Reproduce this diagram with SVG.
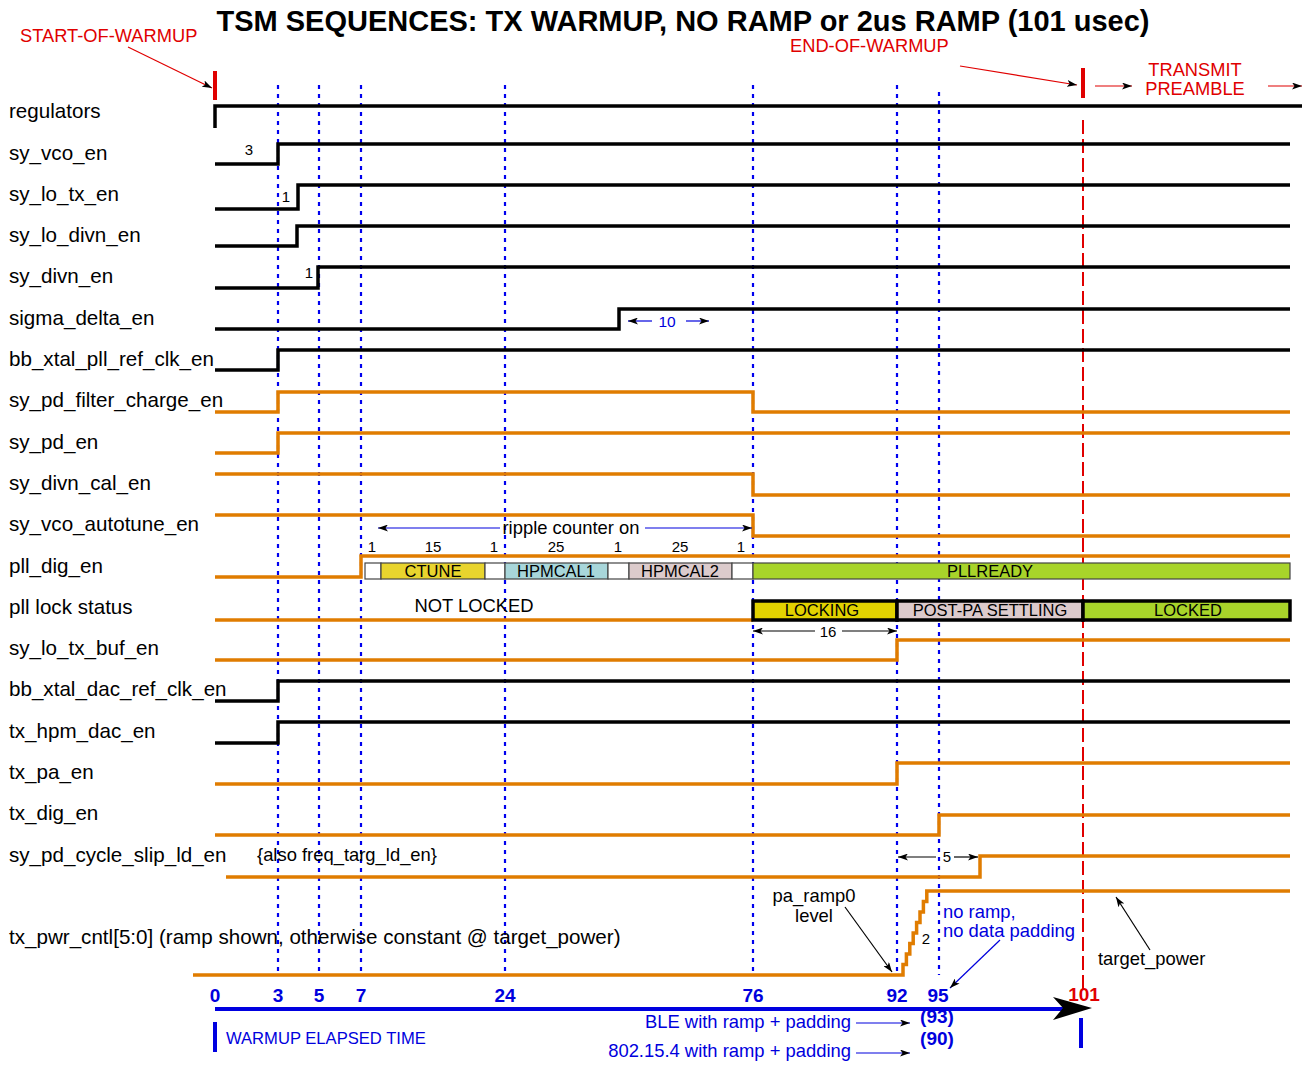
<svg xmlns="http://www.w3.org/2000/svg" width="1306" height="1065" viewBox="0 0 1306 1065">
<style>
text{font-family:"Liberation Sans",Arial,sans-serif}
.lbl{font-size:20.6px;fill:#000}
.sm{font-size:15px;fill:#000}
.red{fill:#e00000;font-size:18.3px}
.blu{fill:#0000dd;font-size:18.4px}
.num{fill:#0000dd;font-size:19px;font-weight:bold;text-anchor:middle}
.blk{fill:none;stroke:#000;stroke-width:3.5}
.org{fill:none;stroke:#e07c00;stroke-width:3.5}
.dot{stroke:#0000ee;stroke-width:2.2;stroke-dasharray:4 5}
.box{stroke:#444;stroke-width:1.2}
.bt{font-size:16.5px;fill:#000;text-anchor:middle}
.lk{stroke:#000;stroke-width:3.5}
.ann{font-size:18.4px;fill:#000}
</style>
<defs>
<marker id="ah" viewBox="0 0 10 7" refX="10" refY="3.5" markerWidth="10" markerHeight="7" markerUnits="userSpaceOnUse" orient="auto">
<path d="M0,0 L10,3.5 L0,7 L2.5,3.5 z" fill="#000"/>
</marker>
</defs>
<rect width="1306" height="1065" fill="#fff"/>

<g id="title">
<text x="683" y="31" text-anchor="middle" style="font-size:29px;font-weight:bold">TSM SEQUENCES: TX WARMUP, NO RAMP or 2us RAMP (101 usec)</text>
<text class="red" x="20" y="42">START-OF-WARMUP</text>
<text class="red" x="790" y="52">END-OF-WARMUP</text>
<text class="red" x="1195" y="76" text-anchor="middle">TRANSMIT</text>
<text class="red" x="1195" y="95" text-anchor="middle">PREAMBLE</text>
</g>

<g id="gridlines">
<line class="dot" x1="278" y1="85" x2="278" y2="975"/>
<line class="dot" x1="319" y1="85" x2="319" y2="975"/>
<line class="dot" x1="361" y1="85" x2="361" y2="975"/>
<line class="dot" x1="505" y1="85" x2="505" y2="975"/>
<line class="dot" x1="753" y1="85" x2="753" y2="975"/>
<line class="dot" x1="897" y1="85" x2="897" y2="975"/>
<line class="dot" x1="939" y1="92" x2="939" y2="975"/>
<line x1="1083" y1="120" x2="1083" y2="990" stroke="#e00000" stroke-width="2" stroke-dasharray="14 5"/>
<rect x="213" y="71" width="4" height="29" fill="#e00000"/>
<rect x="1081" y="68" width="4" height="30" fill="#e00000"/>
</g>

<g id="labels">
<text class="lbl" x="9" y="118">regulators</text>
<text class="lbl" x="9" y="160">sy_vco_en</text>
<text class="lbl" x="9" y="201">sy_lo_tx_en</text>
<text class="lbl" x="9" y="242">sy_lo_divn_en</text>
<text class="lbl" x="9" y="283">sy_divn_en</text>
<text class="lbl" x="9" y="325">sigma_delta_en</text>
<text class="lbl" x="9" y="366">bb_xtal_pll_ref_clk_en</text>
<text class="lbl" x="9" y="407">sy_pd_filter_charge_en</text>
<text class="lbl" x="9" y="449">sy_pd_en</text>
<text class="lbl" x="9" y="490">sy_divn_cal_en</text>
<text class="lbl" x="9" y="531">sy_vco_autotune_en</text>
<text class="lbl" x="9" y="573">pll_dig_en</text>
<text class="lbl" x="9" y="614">pll lock status</text>
<text class="lbl" x="9" y="655">sy_lo_tx_buf_en</text>
<text class="lbl" x="9" y="696">bb_xtal_dac_ref_clk_en</text>
<text class="lbl" x="9" y="738">tx_hpm_dac_en</text>
<text class="lbl" x="9" y="779">tx_pa_en</text>
<text class="lbl" x="9" y="820">tx_dig_en</text>
<text class="lbl" x="9" y="862">sy_pd_cycle_slip_ld_en</text>
<text class="lbl" x="9" y="944">tx_pwr_cntl[5:0] (ramp shown, otherwise constant @ target_power)</text>
</g>

<g id="signals">
<path class="blk" d="M215,128 V106 H1302"/>
<path class="blk" d="M215,164 H278 V144 H1290"/>
<path class="blk" d="M215,209 H298 V185 H1290"/>
<path class="blk" d="M215,246 H297 V226 H1290"/>
<path class="blk" d="M215,288 H318 V267 H1290"/>
<path class="blk" d="M215,329 H619 V309 H1290"/>
<path class="blk" d="M215,370 H278 V350 H1290"/>
<path class="org" d="M215,412 H278 V392 H753 V412 H1290"/>
<path class="org" d="M215,453 H278 V433 H1290"/>
<path class="org" d="M215,474 H753 V495 H1290"/>
<path class="org" d="M215,515 H753 V536 H1290"/>
<path class="org" d="M215,577 H361 V556 H1290"/>
<path class="org" d="M215,620 H753"/>
<path class="org" d="M215,660 H897 V640 H1290"/>
<path class="blk" d="M215,701 H278 V681 H1290"/>
<path class="blk" d="M215,743 H278 V722 H1290"/>
<path class="org" d="M215,784 H897 V763 H1290"/>
<path class="org" d="M215,835 H939 V815 H1290"/>
<path class="org" d="M226,877 H980 V856 H1290"/>
<path class="org" d="M193,975 H903 v-10.5 h3.4 v-10.5 h3.4 v-10.5 h3.4 v-10.5 h3.4 v-10.5 h3.4 v-10.5 h3.4 v-10.5 h3.4 v-10.5 h3 H1290"/>
</g>

<g id="pll_dig_boxes">
<rect class="box" x="365" y="563" width="16" height="16" fill="#fff"/>
<rect class="box" x="381" y="563" width="104" height="16" fill="#e8d42e"/>
<rect class="box" x="485" y="563" width="20" height="16" fill="#fff"/>
<rect class="box" x="505" y="563" width="103" height="16" fill="#a8d6da"/>
<rect class="box" x="608" y="563" width="21" height="16" fill="#fff"/>
<rect class="box" x="629" y="563" width="103" height="16" fill="#dccbcc"/>
<rect class="box" x="732" y="563" width="21" height="16" fill="#fff"/>
<rect class="box" x="753" y="563" width="537" height="16" fill="#a8d42a"/>
<text class="bt" x="433" y="577">CTUNE</text>
<text class="bt" x="556" y="577">HPMCAL1</text>
<text class="bt" x="680" y="577">HPMCAL2</text>
<text class="bt" x="990" y="577">PLLREADY</text>
<text class="sm" x="372" y="552" text-anchor="middle">1</text>
<text class="sm" x="433" y="552" text-anchor="middle">15</text>
<text class="sm" x="494" y="552" text-anchor="middle">1</text>
<text class="sm" x="556" y="552" text-anchor="middle">25</text>
<text class="sm" x="618" y="552" text-anchor="middle">1</text>
<text class="sm" x="680" y="552" text-anchor="middle">25</text>
<text class="sm" x="741" y="552" text-anchor="middle">1</text>
</g>

<g id="pll_lock_boxes">
<rect class="lk" x="753" y="601" width="144" height="19" fill="#e2d200"/>
<rect class="lk" x="897" y="601" width="186" height="19" fill="#dccacc"/>
<rect class="lk" x="1083" y="601" width="207" height="19" fill="#a8d42a"/>
<text class="bt" x="822" y="616">LOCKING</text>
<text class="bt" x="990" y="616">POST-PA SETTLING</text>
<text class="bt" x="1188" y="616">LOCKED</text>
<text class="ann" x="474" y="612" text-anchor="middle">NOT LOCKED</text>
</g>

<g id="annotations">
<text class="sm" x="249" y="155" text-anchor="middle">3</text>
<text class="sm" x="286" y="202" text-anchor="middle">1</text>
<text class="sm" x="309" y="278" text-anchor="middle">1</text>
<text x="667" y="327" text-anchor="middle" style="font-size:15.5px;fill:#0000dd">10</text>
<text class="ann" x="571" y="534" text-anchor="middle">ripple counter on</text>
<text class="sm" x="828" y="637" text-anchor="middle">16</text>
<text class="sm" x="947" y="862" text-anchor="middle">5</text>
<text class="ann" x="257" y="861">{also freq_targ_ld_en}</text>
<text class="sm" x="926" y="944" text-anchor="middle">2</text>
<text class="ann" x="814" y="902" text-anchor="middle">pa_ramp0</text>
<text class="ann" x="814" y="922" text-anchor="middle">level</text>
<text class="blu" x="943" y="918">no ramp,</text>
<text class="blu" x="943" y="937">no data padding</text>
<text class="ann" x="1098" y="965">target_power</text>
</g>

<g id="connectors" fill="none">
<line x1="128" y1="47" x2="212" y2="88" stroke="#e00000" stroke-width="1.2" marker-end="url(#ah)"/>
<line x1="960" y1="66" x2="1077" y2="85" stroke="#e00000" stroke-width="1.2" marker-end="url(#ah)"/>
<line x1="1095" y1="86" x2="1132" y2="86" stroke="#e00000" stroke-width="1.2" marker-end="url(#ah)"/>
<line x1="1268" y1="86" x2="1302" y2="86" stroke="#e00000" stroke-width="1.2" marker-end="url(#ah)"/>
<line x1="652" y1="321" x2="628" y2="321" stroke="#0000dd" stroke-width="1.2" marker-end="url(#ah)"/>
<line x1="686" y1="321" x2="709" y2="321" stroke="#0000dd" stroke-width="1.2" marker-end="url(#ah)"/>
<line x1="500" y1="528" x2="378" y2="528" stroke="#0000dd" stroke-width="1.2" marker-end="url(#ah)"/>
<line x1="645" y1="528" x2="752" y2="528" stroke="#0000dd" stroke-width="1.2" marker-end="url(#ah)"/>
<line x1="815" y1="631" x2="753" y2="631" stroke="#000" stroke-width="1.2" marker-end="url(#ah)"/>
<line x1="842" y1="631" x2="897" y2="631" stroke="#000" stroke-width="1.2" marker-end="url(#ah)"/>
<line x1="936" y1="857" x2="898" y2="857" stroke="#000" stroke-width="1.2" marker-end="url(#ah)"/>
<line x1="954" y1="857" x2="978" y2="857" stroke="#000" stroke-width="1.2" marker-end="url(#ah)"/>
<line x1="845" y1="907" x2="892" y2="972" stroke="#000" stroke-width="1.2" marker-end="url(#ah)"/>
<line x1="1000" y1="940" x2="950" y2="988" stroke="#0000dd" stroke-width="1.2" marker-end="url(#ah)"/>
<line x1="1150" y1="950" x2="1116" y2="897" stroke="#000" stroke-width="1.2" marker-end="url(#ah)"/>
<line x1="856" y1="1023" x2="910" y2="1023" stroke="#0000dd" stroke-width="1.2" marker-end="url(#ah)"/>
<line x1="856" y1="1053" x2="910" y2="1053" stroke="#0000dd" stroke-width="1.2" marker-end="url(#ah)"/>
</g>

<g id="time_axis">
<line x1="215" y1="1009" x2="1065" y2="1009" stroke="#0000e0" stroke-width="4"/>
<polygon points="1053,997 1092,1008 1053,1020 1063,1008" fill="#000"/>
<rect x="213" y="1022" width="4" height="30" fill="#0000e0"/>
<rect x="1079" y="1018" width="4" height="30" fill="#0000e0"/>
<text class="num" x="215" y="1002">0</text>
<text class="num" x="278" y="1002">3</text>
<text class="num" x="319" y="1002">5</text>
<text class="num" x="361" y="1002">7</text>
<text class="num" x="505" y="1002">24</text>
<text class="num" x="753" y="1002">76</text>
<text class="num" x="897" y="1002">92</text>
<text class="num" x="938" y="1002">95</text>
<text class="num" x="1084" y="1001" style="fill:#e00000">101</text>
<text class="num" x="937" y="1023">(93)</text>
<text class="num" x="937" y="1045">(90)</text>
<text x="226" y="1044" style="font-size:16.6px;fill:#0000dd">WARMUP ELAPSED TIME</text>
<text class="blu" x="851" y="1028" text-anchor="end">BLE with ramp + padding</text>
<text class="blu" x="851" y="1057" text-anchor="end">802.15.4 with ramp + padding</text>
</g>
</svg>
